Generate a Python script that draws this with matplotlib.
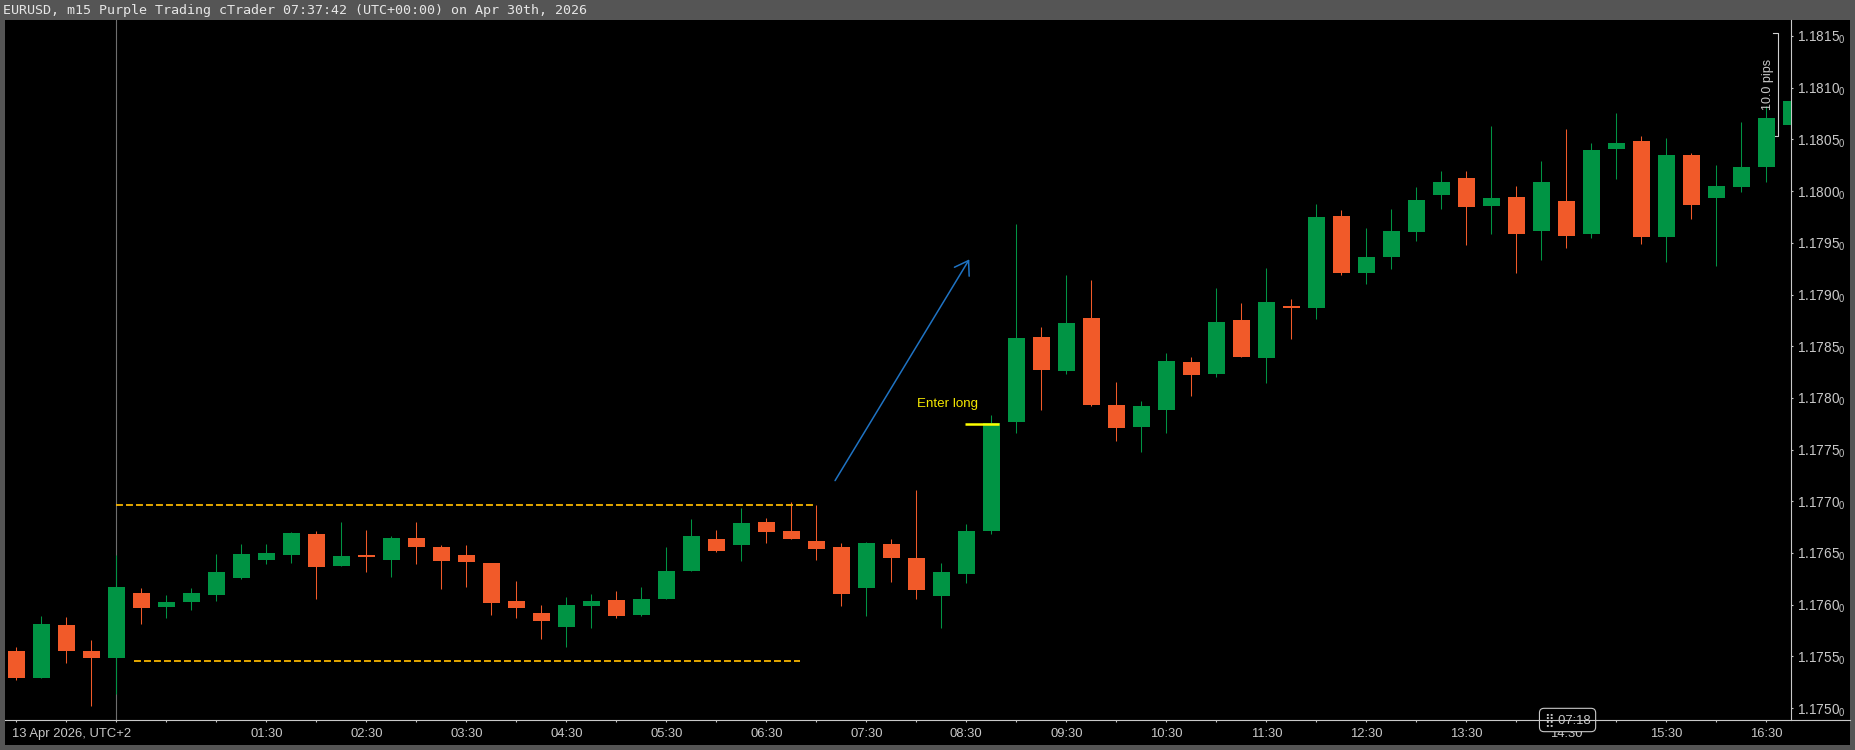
import matplotlib; matplotlib.use("Agg")
import matplotlib.pyplot as plt
import numpy as np
import pandas as pd
from matplotlib.patches import Rectangle
from matplotlib.lines import Line2D

plt.rcParams.update({"font.family": ["Liberation Sans", "DejaVu Sans"],
                     "mathtext.fontset": "custom", "mathtext.rm": "Liberation Sans",
                     "mathtext.it": "Liberation Sans:italic", "lines.scale_dashes": False})
RED = "#f15a29"; GREEN = "#009444"; AXC = "#c8c8c8"; BORDER = "#555555"

# EURUSD m15 candles, 12 Apr 23:00 -> 13 Apr 16:45 (UTC+2)
open_ = [1.17555, 1.17529, 1.17580, 1.17555, 1.17548, 1.17611, 1.17598, 1.17603, 1.17609, 1.17626,
         1.17643, 1.17648, 1.17668, 1.17637, 1.17648, 1.17643, 1.17665, 1.17656, 1.17648, 1.17640,
         1.17604, 1.17592, 1.17578, 1.17599, 1.17605, 1.17590, 1.17606, 1.17633, 1.17664, 1.17658,
         1.17680, 1.17671, 1.17662, 1.17656, 1.17616, 1.17659, 1.17645, 1.17608, 1.17630, 1.17671,
         1.17777, 1.17859, 1.17826, 1.17877, 1.17793, 1.17772, 1.17788, 1.17835, 1.17823, 1.17875,
         1.17839, 1.17889, 1.17887, 1.17976, 1.17921, 1.17936, 1.17960, 1.17996, 1.18013, 1.17986,
         1.17994, 1.17961, 1.17990, 1.17959, 1.18041, 1.18048, 1.17956, 1.18035, 1.17993, 1.18004,
         1.18023, 1.18064]
high = [1.17559, 1.17589, 1.17588, 1.17566, 1.17648, 1.17616, 1.17609, 1.17616, 1.17649, 1.17659,
        1.17659, 1.17670, 1.17671, 1.17680, 1.17672, 1.17666, 1.17680, 1.17658, 1.17658, 1.17640,
        1.17623, 1.17600, 1.17607, 1.17610, 1.17613, 1.17617, 1.17656, 1.17683, 1.17672, 1.17694,
        1.17684, 1.17699, 1.17696, 1.17660, 1.17661, 1.17664, 1.17711, 1.17640, 1.17678, 1.17783,
        1.17968, 1.17869, 1.17919, 1.17914, 1.17815, 1.17797, 1.17843, 1.17840, 1.17906, 1.17892,
        1.17926, 1.17896, 1.17988, 1.17982, 1.17964, 1.17983, 1.18004, 1.18019, 1.18019, 1.18063,
        1.18005, 1.18029, 1.18060, 1.18047, 1.18076, 1.18053, 1.18051, 1.18037, 1.18025, 1.18067,
        1.18082, 1.18090]
low = [1.17527, 1.17529, 1.17544, 1.17502, 1.17514, 1.17581, 1.17587, 1.17595, 1.17604, 1.17625,
       1.17639, 1.17640, 1.17606, 1.17637, 1.17632, 1.17627, 1.17639, 1.17615, 1.17617, 1.17590,
       1.17587, 1.17567, 1.17559, 1.17577, 1.17587, 1.17589, 1.17606, 1.17633, 1.17651, 1.17642,
       1.17660, 1.17664, 1.17643, 1.17599, 1.17589, 1.17622, 1.17606, 1.17577, 1.17621, 1.17668,
       1.17766, 1.17788, 1.17823, 1.17792, 1.17758, 1.17748, 1.17766, 1.17802, 1.17820, 1.17840,
       1.17814, 1.17857, 1.17876, 1.17919, 1.17910, 1.17925, 1.17952, 1.17983, 1.17948, 1.17959,
       1.17921, 1.17933, 1.17945, 1.17955, 1.18012, 1.17949, 1.17931, 1.17973, 1.17928, 1.17999,
       1.18009, 1.18064]
close = [1.17529, 1.17581, 1.17555, 1.17548, 1.17617, 1.17597, 1.17603, 1.17611, 1.17632, 1.17649,
         1.17650, 1.17669, 1.17636, 1.17647, 1.17646, 1.17665, 1.17656, 1.17642, 1.17641, 1.17602,
         1.17597, 1.17584, 1.17600, 1.17604, 1.17589, 1.17606, 1.17633, 1.17666, 1.17652, 1.17679,
         1.17670, 1.17664, 1.17654, 1.17610, 1.17660, 1.17645, 1.17614, 1.17632, 1.17671, 1.17776,
         1.17858, 1.17827, 1.17872, 1.17793, 1.17771, 1.17792, 1.17836, 1.17822, 1.17873, 1.17840,
         1.17893, 1.17887, 1.17975, 1.17921, 1.17936, 1.17961, 1.17991, 1.18009, 1.17985, 1.17993,
         1.17959, 1.18009, 1.17957, 1.18040, 1.18047, 1.17956, 1.18035, 1.17987, 1.18005, 1.18023,
         1.18071, 1.18087]
times = pd.date_range("2026-04-12 23:00", periods=len(open_), freq="15min")
hour_labels = ["01:30", "02:30", "03:30", "04:30", "05:30", "06:30", "07:30", "08:30",
               "09:30", "10:30", "11:30", "12:30", "13:30", "14:30", "15:30", "16:30"]
price_ticks = [1.1750, 1.1755, 1.1760, 1.1765, 1.1770, 1.1775, 1.1780,
               1.1785, 1.1790, 1.1795, 1.1800, 1.1805, 1.1810, 1.1815]
range_top = 1.17696; range_bot = 1.17546
entry_price = 1.17775
pips_lo = 1.18053; pips_hi = 1.18153

W, H = 1855, 750
fig = plt.figure(figsize=(W/100, H/100), dpi=100, facecolor=BORDER)
fig.patches.append(Rectangle((5/W, 5/H), 1845/W, 725/H, transform=fig.transFigure,
                             fc="black", ec="none", zorder=-5))
ax = fig.add_axes([5/W, 30/H, 1786/W, 700/H], facecolor="black")

o, h, l, c = map(np.array, (open_, high, low, close))
x = np.arange(len(o))
cols = np.where(c >= o, GREEN, RED)
ax.vlines(x, l, h, colors=cols, lw=0.75, zorder=2)
ax.bar(x, np.abs(c - o), bottom=np.minimum(o, c), width=0.68, color=cols, lw=0, zorder=3)

day = int(np.where((times.hour == 0) & (times.minute == 0))[0][0])
ax.axvline(day, color="#6e6e6e", lw=0.8, zorder=1)

# consolidation range
ax.hlines(range_top, day, 32, color="#f7b500", lw=1.3, linestyles=(0, (5, 2.2)), zorder=4)
ax.hlines(range_bot, day + 0.7, 31.35, color="#f7b500", lw=1.3, linestyles=(0, (5, 2.2)), zorder=4)

ax.annotate("", xy=(38.12, 1.17934), xytext=(32.75, 1.17720),
            arrowprops=dict(arrowstyle="->,head_length=0.47,head_width=0.31", color="#1f73c3",
                            lw=1.1, mutation_scale=20, shrinkA=0, shrinkB=0))
ax.hlines(entry_price, 37.94, 39.3, color="#ffff00", lw=1.8, zorder=5)
ax.text(37.25, 1.17794, "Enter long", color="#f5e800", fontsize=9.6, ha="center", va="center")

# 10 pips ruler
ax.plot([70.27, 70.47, 70.47, 70.33], [pips_hi, pips_hi, pips_lo, pips_lo],
        color="#d0d0d0", lw=0.8, clip_on=False, zorder=6)
ax.text(70.07, (pips_lo + pips_hi) / 2, "10.0 pips", rotation=90, color=AXC,
        fontsize=9, ha="center", va="center")

ax.set_xlim(-0.452, 70.988)
ax.set_ylim(1.174885, 1.181655)

ax.yaxis.tick_right()
ax.set_yticks(price_ticks)
ax.set_yticklabels([f"{p:.4f}$_0$" for p in price_ticks])
ax.tick_params(axis="y", colors=AXC, length=1.5, width=0.8, pad=2.8, labelsize=9.8)

lab = [i for i, t in enumerate(times) if t.strftime("%H:%M") in hour_labels]
ax.set_xticks(lab)
ax.set_xticklabels([times[i].strftime("%H:%M") for i in lab])
ax.set_xticks(x[::2], minor=True)
ax.tick_params(axis="x", which="both", colors=AXC, length=1.5, width=0.8, pad=4, labelsize=9.4)
ax.annotate("13 Apr 2026, UTC+2", xy=(0, 0), xycoords="axes fraction", xytext=(4.8, -5.5),
            textcoords="offset points", ha="left", va="top", color=AXC, fontsize=9.4)

for s in ("top", "left", "bottom"):
    ax.spines[s].set_visible(False)
ax.spines["right"].set_color(AXC); ax.spines["right"].set_linewidth(0.8)
fig.lines.append(Line2D([5/W, 1850/W], [30/H, 30/H], transform=fig.transFigure, color=AXC, lw=0.8))

now = lab[hour_labels.index("14:30")]
ax.annotate("\u28ff 07:18", xy=(now + 0.05, 0), xycoords=("data", "axes fraction"),
            ha="center", va="center", fontsize=9.4, color=AXC, zorder=10, annotation_clip=False,
            bbox=dict(boxstyle="round,pad=0.4,rounding_size=0.35", fc="black", ec=AXC, lw=0.8))

fig.text(3/W, 1 - 10.5/H, "EURUSD, m15 Purple Trading cTrader 07:37:42 (UTC+00:00) on Apr 30th, 2026",
         family="DejaVu Sans Mono", fontsize=9.6, color="#e6e6e6", va="center", ha="left")

fig.savefig("out.png", dpi=100, facecolor=fig.get_facecolor())
